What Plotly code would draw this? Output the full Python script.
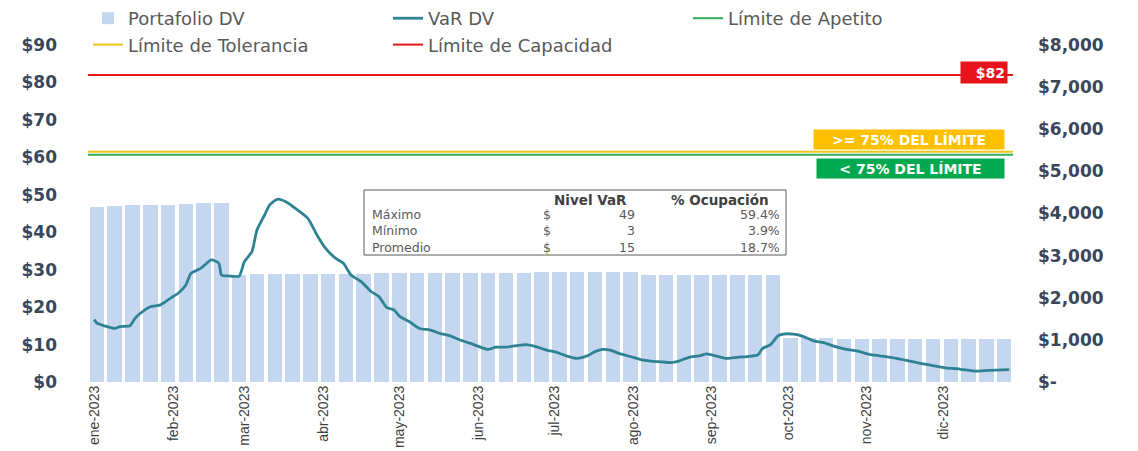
import pandas as pd
import plotly.graph_objects as go

# ---------------- data ----------------
month_ticks = ["2023-01-01", "2023-02-01", "2023-03-01", "2023-04-01", "2023-05-01", "2023-06-01",
               "2023-07-01", "2023-08-01", "2023-09-01", "2023-10-01", "2023-11-01", "2023-12-01"]
month_labels = ["ene-2023", "feb-2023", "mar-2023", "abr-2023", "may-2023", "jun-2023",
                "jul-2023", "ago-2023", "sep-2023", "oct-2023", "nov-2023", "dic-2023"]

bar_dates = pd.date_range("2023-01-02", periods=52, freq="7D")
portafolio_dv = [4165, 4180, 4195, 4200, 4210, 4220, 4240, 4255,
                 2550, 2560, 2560, 2570, 2570, 2570, 2560, 2570, 2580,
                 2580, 2580, 2590, 2590, 2580,
                 2580, 2590, 2590, 2600,
                 2600, 2610, 2600, 2610, 2620,
                 2540, 2530, 2530, 2540,
                 2550, 2540, 2540, 2540,
                 1040, 1035, 1035, 1030, 1030, 1030, 1030, 1030, 1030, 1030, 1030, 1030, 1030]

var_dates = ["2023-01-01", "2023-01-02", "2023-01-05", "2023-01-09", "2023-01-11", "2023-01-15",
             "2023-01-17", "2023-01-19", "2023-01-23", "2023-01-27", "2023-01-31", "2023-02-03",
             "2023-02-06", "2023-02-08", "2023-02-12", "2023-02-16", "2023-02-19", "2023-02-20",
             "2023-02-23", "2023-02-27", "2023-03-01", "2023-03-04", "2023-03-06", "2023-03-09",
             "2023-03-11", "2023-03-14", "2023-03-18", "2023-03-22", "2023-03-26", "2023-03-30",
             "2023-04-02", "2023-04-06", "2023-04-09", "2023-04-12", "2023-04-16", "2023-04-20",
             "2023-04-23", "2023-04-26", "2023-04-29", "2023-05-01", "2023-05-05", "2023-05-09",
             "2023-05-13", "2023-05-17", "2023-05-21", "2023-05-25", "2023-05-29", "2023-06-02",
             "2023-06-05", "2023-06-08", "2023-06-12", "2023-06-16", "2023-06-20", "2023-06-24",
             "2023-06-28", "2023-07-02", "2023-07-06", "2023-07-10", "2023-07-14", "2023-07-17",
             "2023-07-20", "2023-07-23", "2023-07-27", "2023-07-31", "2023-08-04", "2023-08-08",
             "2023-08-12", "2023-08-16", "2023-08-19", "2023-08-23", "2023-08-27", "2023-08-30",
             "2023-09-03", "2023-09-07", "2023-09-11", "2023-09-15", "2023-09-19", "2023-09-21",
             "2023-09-24", "2023-09-27", "2023-09-29", "2023-10-03", "2023-10-06", "2023-10-11",
             "2023-10-15", "2023-10-19", "2023-10-24", "2023-10-28", "2023-11-02", "2023-11-06",
             "2023-11-11", "2023-11-17", "2023-11-22", "2023-11-27", "2023-12-02", "2023-12-08",
             "2023-12-14", "2023-12-19", "2023-12-27"]
var_dv = [16.7, 15.7, 15.0, 14.3, 14.8, 15.0,
          17.0, 18.3, 20.1, 20.6, 22.4, 23.7,
          25.9, 29.0, 30.4, 32.6, 31.7, 28.6,
          28.3, 28.3, 32.1, 34.8, 40.6, 44.6,
          47.3, 48.8, 47.9, 45.9, 43.7, 38.8,
          35.7, 33.0, 31.7, 28.6, 26.8, 24.1,
          22.8, 19.9, 19.2, 17.6, 16.1, 14.3,
          13.9, 13.0, 12.3, 11.2, 10.3, 9.3,
          8.7, 9.3, 9.3, 9.7, 10.0, 9.4,
          8.5, 7.9, 6.9, 6.3, 7.0, 8.1,
          8.7, 8.5, 7.5, 6.8, 6.0, 5.6,
          5.4, 5.2, 5.6, 6.6, 7.0, 7.5,
          6.9, 6.3, 6.6, 6.8, 7.2, 9.0,
          9.9, 12.3, 12.8, 12.8, 12.4, 11.0,
          10.5, 9.6, 8.7, 8.3, 7.4, 7.0,
          6.5, 5.7, 5.0, 4.4, 3.8, 3.4,
          2.9, 3.1, 3.3]

limite_apetito = 60.7
limite_tolerancia = 61.5
limite_capacidad = 82

left_ticks = [0, 10, 20, 30, 40, 50, 60, 70, 80, 90]
left_labels = ["$0", "$10", "$20", "$30", "$40", "$50", "$60", "$70", "$80", "$90"]
right_ticks = [0, 1000, 2000, 3000, 4000, 5000, 6000, 7000, 8000]
right_labels = ["$-", "$1,000", "$2,000", "$3,000", "$4,000", "$5,000", "$6,000", "$7,000", "$8,000"]

tabla_filas = ["Máximo", "Mínimo", "Promedio"]
tabla_nivel = [49, 3, 15]
tabla_ocupacion = ["59.4%", "3.9%", "18.7%"]

x_range = ["2022-12-29 12:00", "2023-12-28 12:00"]

# ---------------- figure ----------------
W, H = 1138, 451
ML, MR, MT, MB = 88, 125, 45, 69
PW, PH = W - ML - MR, H - MT - MB


def px_x(px):
    return (px - ML) / PW


def px_y(py):
    return (H - MB - py) / PH


axis_col = "#3A4659"
txt_col = "#595959"

fig = go.Figure()

fig.add_trace(go.Bar(
    x=bar_dates, y=portafolio_dv, name="Portafolio DV",
    marker=dict(color="#C5D6EF", line=dict(width=0)),
    width=5.7 * 86400000, yaxis="y",
))
fig.add_trace(go.Scatter(
    x=var_dates, y=var_dv, name="VaR DV", mode="lines",
    line=dict(color="#2F8294", width=2.8, shape="spline", smoothing=0.6), yaxis="y2",
))
fig.add_trace(go.Scatter(
    x=x_range, y=[limite_apetito] * 2, name="Límite de Apetito", mode="lines",
    line=dict(color="#2DB05C", width=2), yaxis="y2",
))
fig.add_trace(go.Scatter(
    x=x_range, y=[limite_tolerancia] * 2, name="Límite de Tolerancia", mode="lines",
    line=dict(color="#F0C419", width=2), yaxis="y2",
))
fig.add_trace(go.Scatter(
    x=x_range, y=[limite_capacidad] * 2, name="Límite de Capacidad", mode="lines",
    line=dict(color="#E3191E", width=2), yaxis="y2",
))

annotations = []
# limit tags
annotations.append(dict(
    x=px_x(1008), xref="paper", xanchor="right", y=limite_capacidad, yref="y2", yanchor="middle",
    yshift=2, text="<b>$%d</b>" % limite_capacidad, showarrow=False,
    font=dict(family="DejaVu Sans", size=14, color="white"),
    bgcolor="#E8141B", width=42, height=17, borderpad=2, align="right",
))
annotations.append(dict(
    x=px_x(1005), xref="paper", xanchor="right", y=limite_tolerancia, yref="y2", yanchor="bottom",
    yshift=2, text="<b>&gt;= 75% DEL LÍMITE</b>", showarrow=False,
    font=dict(family="DejaVu Sans", size=14, color="white"),
    bgcolor="#FFC000", width=186, height=15, borderpad=2,
))
annotations.append(dict(
    x=px_x(1005), xref="paper", xanchor="right", y=limite_apetito, yref="y2", yanchor="top",
    yshift=-3, text="<b>&lt; 75% DEL LÍMITE</b>", showarrow=False,
    font=dict(family="DejaVu Sans", size=14, color="white"),
    bgcolor="#00A94F", width=183, height=15, borderpad=2,
))

# table
tfont = dict(family="DejaVu Sans", size=12.5, color=txt_col)
hfont = dict(family="DejaVu Sans", size=13.5, color="#404040", weight="bold")
annotations.append(dict(x=px_x(590), y=px_y(200), xref="paper", yref="paper", text="Nivel VaR",
                        showarrow=False, font=hfont, xanchor="center", yanchor="middle"))
annotations.append(dict(x=px_x(720), y=px_y(200), xref="paper", yref="paper", text="% Ocupación",
                        showarrow=False, font=hfont, xanchor="center", yanchor="middle"))
yy = px_y(231)
annotations.append(dict(x=px_x(370), y=yy, xref="paper", yref="paper",
                        text="<br>".join(tabla_filas), align="left",
                        showarrow=False, font=tfont, xanchor="left", yanchor="middle"))
annotations.append(dict(x=px_x(541), y=yy, xref="paper", yref="paper",
                        text="<br>".join(["$"] * len(tabla_filas)), align="left",
                        showarrow=False, font=tfont, xanchor="left", yanchor="middle"))
annotations.append(dict(x=px_x(637), y=yy, xref="paper", yref="paper",
                        text="<br>".join(str(v) for v in tabla_nivel), align="right",
                        showarrow=False, font=tfont, xanchor="right", yanchor="middle"))
annotations.append(dict(x=px_x(782), y=yy, xref="paper", yref="paper",
                        text="<br>".join(tabla_ocupacion), align="right",
                        showarrow=False, font=tfont, xanchor="right", yanchor="middle"))

shapes = [dict(type="rect", xref="paper", yref="paper",
               x0=px_x(364), x1=px_x(786), y0=px_y(255), y1=px_y(190),
               fillcolor="white", line=dict(color="#595959", width=1), layer="above")]

fig.update_layout(
    width=W, height=H,
    margin=dict(l=ML, r=MR, t=MT, b=MB, pad=0, autoexpand=False),
    plot_bgcolor="white", paper_bgcolor="white",
    font=dict(family="DejaVu Sans", color=txt_col),
    bargap=0,
    showlegend=True,
    legend=dict(
        orientation="h", x=0.0, xanchor="left", y=px_y(0), yanchor="top",
        entrywidth=255, entrywidthmode="pixels",
        font=dict(family="DejaVu Sans", size=18, color=txt_col),
        bgcolor="rgba(0,0,0,0)", itemwidth=30, tracegroupgap=0,
    ),
    xaxis=dict(
        type="date", range=x_range, tickvals=month_ticks, ticktext=month_labels,
        tickangle=-90, showgrid=False, zeroline=False, showline=False, ticks="",
        tickfont=dict(family="Liberation Sans", size=14, color="#404040"),
    ),
    yaxis=dict(
        side="right", range=[0, 8000], tickvals=right_ticks, ticktext=right_labels,
        showgrid=False, zeroline=False, showline=False, ticks="",
        tickfont=dict(family="DejaVu Sans", size=17, color=axis_col, weight="bold"),
        ticklabelstandoff=24,
    ),
    yaxis2=dict(
        overlaying="y", side="left", range=[0, 90], tickvals=left_ticks, ticktext=left_labels,
        showgrid=False, zeroline=False, showline=False, ticks="",
        tickfont=dict(family="DejaVu Sans", size=17, color=axis_col, weight="bold"),
        ticklabelstandoff=30,
    ),
    annotations=annotations,
    shapes=shapes,
)

fig.write_html("out.html", config={"displayModeBar": False},
               post_script="document.body.style.margin='0px';document.body.style.overflow='hidden';")
